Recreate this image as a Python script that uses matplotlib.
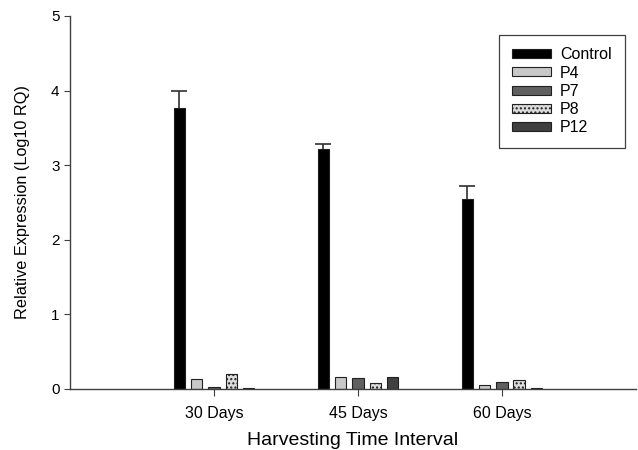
import numpy as np
import matplotlib.pyplot as plt

plt.rcParams['font.family'] = ['Liberation Sans', 'DejaVu Sans']
plt.rcParams['hatch.color'] = '#777777'

groups = ['30 Days', '45 Days', '60 Days']
series = ['Control', 'P4', 'P7', 'P8', 'P12']
values = {
    'Control': [3.77, 3.22, 2.55],
    'P4': [0.13, 0.16, 0.05],
    'P7': [0.02, 0.15, 0.10],
    'P8': [0.20, 0.075, 0.115],
    'P12': [0.01, 0.155, 0.015],
}
control_err = [0.22, 0.06, 0.17]

colors = {'Control': '#000000', 'P4': '#c8c8c8', 'P7': '#606060',
          'P8': '#dcdcdc', 'P12': '#404040'}
hatches = {'P8': '....'}

fig = plt.figure(figsize=(6.38, 4.5), dpi=100)
ax = fig.add_axes([0.1097, 0.1356, 0.887, 0.829])

x = np.arange(1, len(groups) + 1)
step = 0.12
width = 0.08
for i, s in enumerate(series):
    pos = x + (i - 2) * step
    ax.bar(pos, values[s], width, color=colors[s], edgecolor='#202020',
           linewidth=0.8, hatch=hatches.get(s, None), label=s, zorder=2)
    if s == 'Control':
        eb = ax.errorbar(pos, values[s], yerr=[np.zeros(3), control_err], fmt='none',
                         ecolor='#303030', elinewidth=1.2, capsize=6, capthick=1.2, zorder=1)
        eb[1][0].set_visible(False)  # hide lower cap

ax.set_xlim(0, 3.93)
ax.set_ylim(0, 5)
ax.set_xticks(x)
ax.set_xticklabels(groups, fontsize=11.5)
ax.set_yticks([0, 1, 2, 3, 4, 5])
ax.tick_params(axis='y', labelsize=11, direction='out', length=4, color='#404040')
ax.tick_params(axis='x', direction='out', length=5, color='#404040', pad=7)
for side in ['top', 'right']:
    ax.spines[side].set_visible(False)
for side in ['left', 'bottom']:
    ax.spines[side].set_color('#404040')
    ax.spines[side].set_linewidth(1.0)

ax.set_xlabel('Harvesting Time Interval', fontsize=14, labelpad=8)
ax.set_ylabel('Relative Expression (Log10 RQ)', fontsize=11.7, labelpad=15)

leg = ax.legend(loc='upper right', bbox_to_anchor=(0.98, 0.95), fontsize=11.5,
                fancybox=False, edgecolor='#404040', framealpha=1,
                handlelength=2.4, handleheight=0.5, labelspacing=0.2,
                borderpad=0.8, handletextpad=0.6, borderaxespad=0)
leg.get_frame().set_linewidth(0.9)

fig.savefig('out.png', dpi=100)
